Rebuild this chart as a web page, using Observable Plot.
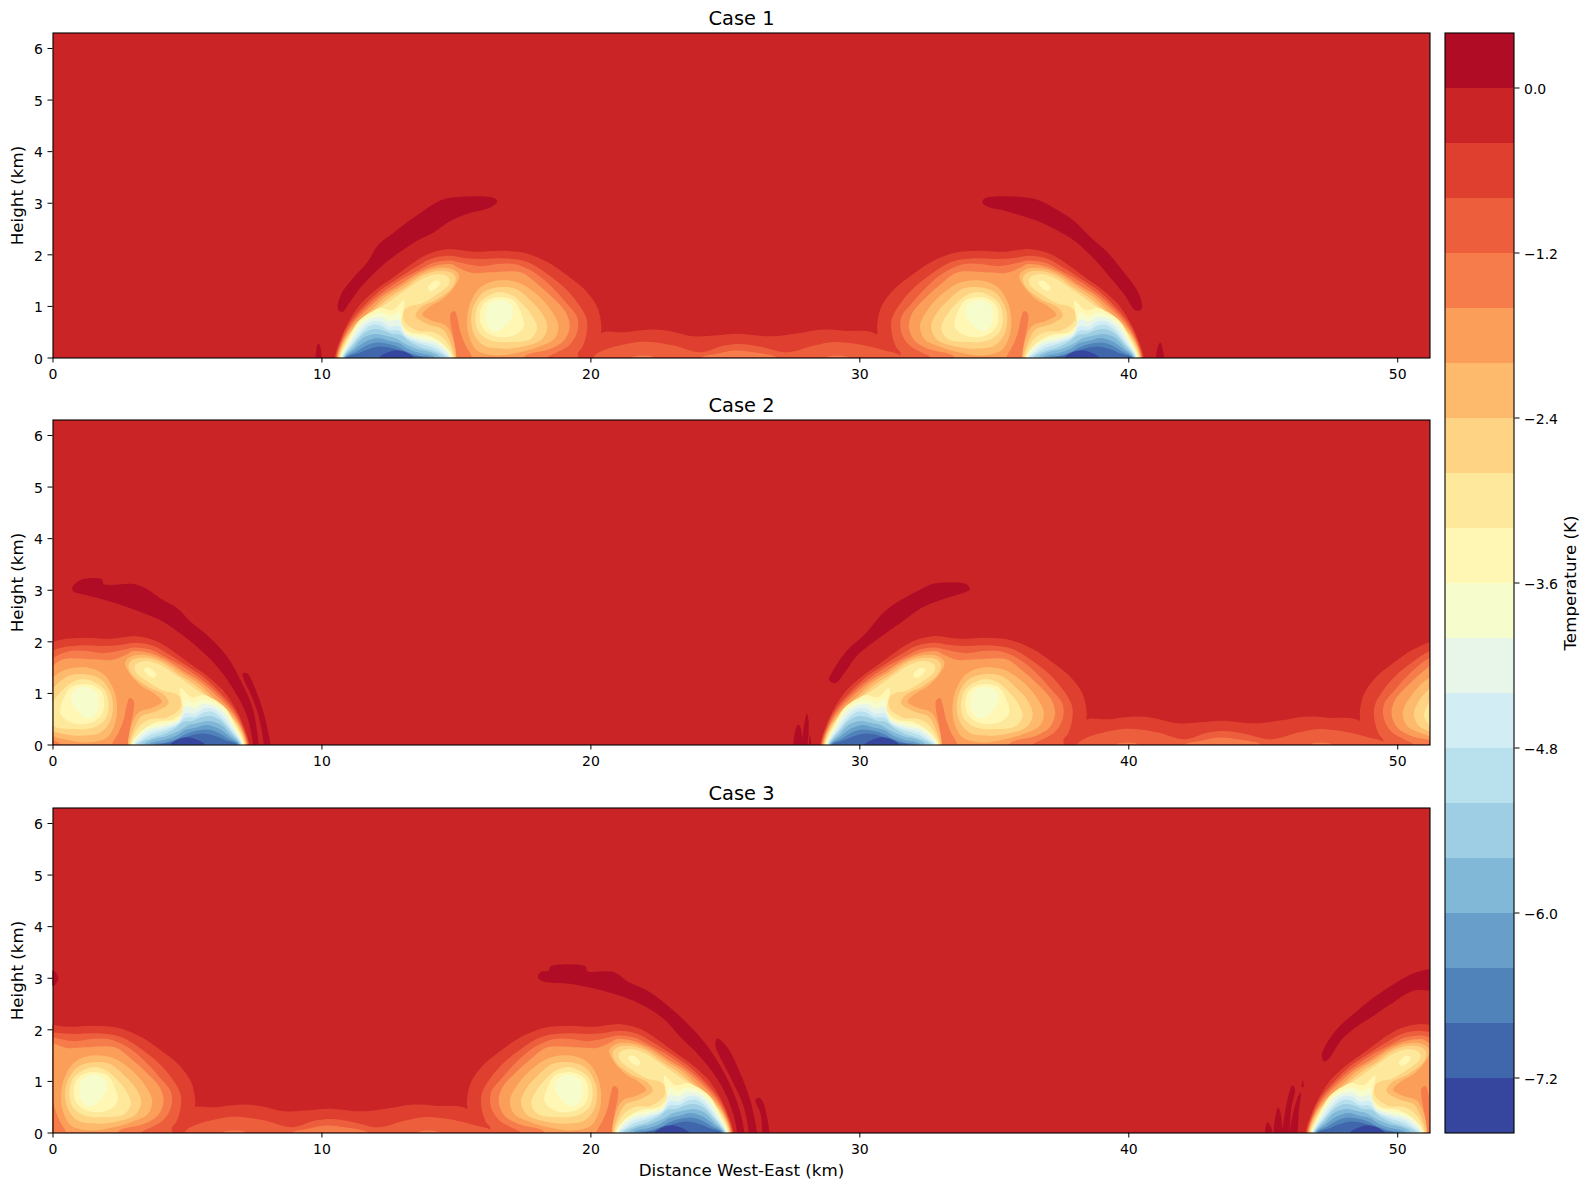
<!DOCTYPE html>
<html><head><meta charset="utf-8">
<script src="https://cdn.jsdelivr.net/npm/d3@7"></script>
<script src="https://cdn.jsdelivr.net/npm/@observablehq/plot@0.6"></script>
<style>html,body{margin:0;background:#fff}#fig{position:relative;width:1590px;height:1189px;overflow:hidden}#fig svg{position:absolute;overflow:visible}</style>
</head><body><div id="fig"></div>
<script>
// Temperature band colours, coldest (-7.6..-7.2) to warmest (0..0.4)
const bandColors=["#36459d","#4066ac","#5183bb","#689fca","#82b8d7","#9dcee3","#b8e0ed","#d3edf4","#e8f6ea","#f7fccd","#fff7b3","#fee89c","#fed484","#fdba6d","#fb9e5a","#f67d4b","#ed5e3c","#de3f2e","#ca2427","#b10c26"];
const bandEdges=d3.range(21).map(i=>-7.6+i*0.4);
const colorbarTicks=[-7.2,-6,-4.8,-3.6,-2.4,-1.2,0];
const xTicks=[0,10,20,30,40,50];
const yTicks=[0,1,2,3,4,5,6];
const caseTitles=["Case 1","Case 2","Case 3"];

// contours of one cold pool (km, km), as in the west half of Case 1
const outer17=[[10.47,0],[10.69,.37],[11,.71],[11.44,1.05],[12,1.32],[12.62,1.55],[13.24,1.79],[13.92,2.01],[14.66,2.11],[15.65,2.06],[16.64,2.08],[17.51,2.04],[18.38,1.86],[19.12,1.6],[19.74,1.34],[20.24,.985],[20.39,.63],[20.39,.47],[20.5,.44],[21,.3],[21,-.3],[10.47,-.3]];
const outer16=[[10.5,0],[10.73,.37],[11.07,.71],[11.56,1.01],[12.12,1.29],[12.74,1.51],[13.42,1.74],[14.04,1.92],[14.72,1.98],[15.15,1.95],[15.9,1.92],[16.89,1.93],[17.63,1.86],[18.38,1.63],[19,1.37],[19.49,1.08],[19.84,.76],[19.84,.47],[19.68,.21],[19.52,.1],[19.6,-.3],[10.5,-.3]];
const outer15=[[10.53,0],[10.77,.37],[11.12,.69],[11.62,.98],[12.18,1.24],[12.86,1.49],[13.55,1.69],[14.17,1.85],[14.79,1.89],[15.03,1.86],[15.9,1.78],[16.52,1.82],[17.14,1.82],[17.88,1.66],[18.5,1.4],[19.06,1.08],[19.49,.79],[19.49,.5],[19.18,.24],[18.75,.11],[18.38,0],[18.3,-.3],[10.53,-.3]];
const outer14=[[10.56,0],[10.81,.37],[11.17,.67],[11.69,.95],[12.31,1.23],[12.93,1.43],[13.61,1.66],[14.23,1.79],[14.79,1.82],[15.03,1.76],[15.59,1.65],[16.27,1.66],[17.39,1.66],[18,1.44],[18.56,1.18],[19.06,.89],[19.21,.6],[19,.34],[18.5,.18],[17.51,.02],[17.5,-.3],[10.56,-.3]];
const finger15=[[14.78,.86],[14.93,.91],[15.03,.79],[15.15,.5],[15.34,.24],[15.59,0],[15.59,-.2],[14.97,-.2],[15,0],[14.9,.37],[14.78,.69]];
const pool13=[[10.58,0],[10.84,.37],[11.25,.66],[11.81,.92],[12.37,1.19],[12.99,1.4],[13.67,1.63],[14.29,1.74],[14.85,1.72],[15.1,1.6],[14.91,1.37],[14.48,1.14],[14.04,1.01],[13.73,.84],[14.1,.72],[14.6,.63],[14.85,.4],[15,0],[15,-.3],[10.58,-.3]];
const warm13=[[15.4,.76],[15.53,1.08],[15.9,1.37],[16.52,1.5],[17.26,1.47],[17.88,1.28],[18.44,.985],[18.79,.63],[18.63,.37],[18,.21],[17.26,.1],[16.52,.05],[15.77,.145],[15.46,.44]];
const pool12=[[10.61,0],[10.89,.37],[11.3,.63],[11.87,.885],[12.43,1.14],[13.11,1.37],[13.73,1.6],[14.35,1.69],[14.79,1.66],[14.97,1.55],[14.85,1.37],[14.29,1.14],[13.67,.98],[13.48,.82],[13.92,.66],[14.48,.56],[14.72,.37],[14.96,0],[14.96,-.3],[10.61,-.3]];
const warm12=[[15.55,.76],[15.65,1.02],[16.02,1.28],[16.58,1.37],[17.2,1.34],[17.76,1.11],[18.19,.86],[18.38,.6],[18.19,.37],[17.63,.24],[16.77,.18],[16.02,.24],[15.65,.47]];
const pool11=[[10.63,0],[10.94,.37],[11.36,.66],[11.95,.9],[12.55,1.11],[13.17,1.34],[13.79,1.55],[14.35,1.63],[14.72,1.55],[14.72,1.43],[14.29,1.24],[13.67,1.05],[13.24,1],[13.05,.92],[13.05,.72],[13.55,.53],[14.17,.5],[14.6,.34],[14.91,0],[14.91,-.3],[10.63,-.3]];
const warm11=[[15.71,.76],[15.84,1.05],[16.21,1.21],[16.64,1.28],[17.08,1.21],[17.57,.985],[17.88,.76],[18,.565],[17.76,.37],[17.01,.31],[16.27,.34],[15.84,.5]];
const lobe10=[[13.94,1.36],[14.23,1.5],[14.39,1.47],[14.29,1.37],[14.04,1.3]];
const pool10=[[10.67,0],[11,.39],[11.36,.71],[11.81,.885],[12.18,.97],[12.62,.93],[13.05,1.11],[12.99,.82],[12.93,.69],[13.3,.5],[13.92,.45],[14.48,.28],[14.87,0],[14.87,-.3],[10.67,-.3]];
const warm10=[[15.87,.76],[15.96,1.02],[16.27,1.15],[16.7,1.18],[17.14,1.11],[17.39,.89],[17.51,.63],[17.26,.47],[16.7,.4],[16.21,.47],[15.96,.6]];
const warm9=[[16.08,.86],[16.21,1.05],[16.64,1.13],[17.01,1.05],[17.11,.86],[16.83,.63],[16.46,.51],[16.15,.63]];
const pool9=[[10.69,0],[11.03,.37],[11.41,.67],[11.87,.84],[12.24,.88],[12.55,.81],[12.86,.885],[13.05,.53],[13.67,.43],[14.17,.37],[14.66,.175],[14.84,0],[14.84,-.3],[10.69,-.3]];
const pool8=[[10.72,0],[11.07,.35],[11.46,.65],[11.87,.775],[12.24,.79],[12.49,.71],[12.86,.74],[13.11,.48],[13.67,.37],[14.23,.3],[14.64,.13],[14.8,0],[14.8,-.3],[10.72,-.3]];
const pool7=[[10.74,0],[11.12,.32],[11.5,.58],[11.87,.71],[12.18,.71],[12.49,.61],[12.86,.62],[13.11,.43],[13.67,.32],[14.17,.25],[14.6,.09],[14.76,0],[14.76,-.3],[10.74,-.3]];
const pool6=[[10.77,0],[11.15,.285],[11.54,.53],[11.87,.645],[12.18,.63],[12.49,.54],[12.86,.53],[13.17,.39],[13.67,.27],[14.17,.19],[14.48,.09],[14.71,0],[14.71,-.3],[10.77,-.3]];
const pool5=[[10.79,0],[11.19,.27],[11.56,.48],[11.93,.56],[12.31,.53],[12.62,.465],[12.93,.445],[13.24,.32],[13.67,.21],[14.1,.14],[14.6,0],[14.6,-.3],[10.79,-.3]];
const pool4=[[10.82,0],[11.19,.21],[11.56,.4],[12,.465],[12.37,.43],[12.8,.37],[13.11,.27],[13.55,.175],[14.04,.11],[14.41,0],[14.41,-.3],[10.82,-.3]];
const pool3=[[10.84,0],[11.19,.155],[11.62,.32],[12.06,.39],[12.49,.335],[12.86,.29],[13.17,.19],[13.61,.1],[14.23,0],[14.23,-.3],[10.84,-.3]];
const pool2=[[10.87,0],[11.25,.115],[11.69,.25],[12.06,.3],[12.49,.27],[12.86,.21],[13.17,.12],[13.61,.045],[14.04,0],[14.04,-.3],[10.87,-.3]];
const pool1=[[10.92,0],[11.31,.08],[11.75,.175],[12.12,.22],[12.62,.19],[12.99,.12],[13.42,.045],[13.79,0],[13.79,-.3],[10.92,-.3]];
const pool0=[[12.12,0],[12.37,.09],[12.8,.15],[13.17,.1],[13.42,0],[13.42,-.2],[12.12,-.2]];

// the low wave that joins the two pools
const bridge17=[[20.36,.47],[21.23,.5],[22.1,.55],[22.84,.53],[23.83,.42],[24.7,.44],[25.44,.47],[26.68,.42],[27.68,.48],[28.54,.55],[29.41,.53],[30.65,.44],[31,-.3],[20.1,-.3]];
const bridge16=[[20.11,.03],[21.48,.29],[22.22,.31],[23.09,.24],[24.08,.11],[24.95,.24],[25.57,.27],[26.31,.22],[27.3,.11],[28.3,.24],[29.04,.31],[29.9,.27],[30.9,.15],[31.52,.03],[31.5,-.3],[20.1,-.3]];
const bridge15a=[[21.48,0],[21.97,.05],[22.4,0],[22.4,-.1],[21.48,-.1]];
const bridge15b=[[24.08,0],[24.7,.08],[25.32,.145],[26.06,.11],[26.93,0],[26.93,-.1],[24.08,-.1]];
const bridge15c=[[28.73,0],[29.16,.05],[29.6,0],[29.6,-.1],[28.73,-.1]];

// warm stripes above each pool (temperature 0 to 0.4)
const warmCase1=[
 [[10.59,.95],[10.72,1.24],[11.13,1.53],[11.69,1.86],[12.12,2.21],[12.62,2.41],[13.17,2.63],[13.61,2.79],[14.17,2.99],[14.72,3.1],[16.4,3.1],[16.52,3.03],[16.27,2.92],[15.4,2.79],[14.79,2.66],[14.17,2.44],[13.55,2.28],[12.8,2.02],[12.18,1.76],[11.44,1.37],[11,1.05],[10.76,.89]],
 [[34.55,3.02],[34.68,3.1],[36.35,3.1],[36.91,3],[37.47,2.83],[37.96,2.66],[38.58,2.34],[39.2,2.05],[39.82,1.66],[40.38,1.24],[40.48,.95],[40.26,.92],[39.82,1.24],[39.2,1.63],[38.58,1.99],[37.96,2.28],[37.34,2.47],[36.72,2.63],[35.98,2.76],[35.36,2.86],[34.8,2.92]],
 [[9.8,-.1],[9.8,.2],[9.87,.28],[9.95,.2],[9.95,-.1]],
 [[41.05,-.1],[41.07,.2],[41.17,.3],[41.27,.15],[41.3,-.1]]
];
const warmCase2=[
 [[.71,3.04],[1.02,3.2],[1.83,3.21],[1.89,3.12],[3,3.12],[3.56,3],[4,2.84],[4.62,2.65],[5.11,2.39],[5.73,2.13],[6.48,1.71],[6.97,1.26],[7.41,.74],[7.65,0],[7.65,-.1],[7.44,-.1],[7.44,0],[7.22,.55],[6.72,1.07],[6.1,1.52],[5.36,1.9],[4.74,2.16],[4,2.42],[3.25,2.58],[2,2.8],[1.02,2.93],[.775,2.97]],
 [[7.06,1.39],[7.22,1.39],[7.59,1],[7.84,.61],[8.09,0],[8.09,-.1],[7.84,-.1],[7.84,0],[7.65,.55],[7.34,1],[7.1,1.26]],
 [[28.86,1.26],[28.98,1.42],[29.54,1.84],[30.16,2.13],[30.9,2.58],[31.52,2.81],[32.2,3],[32.7,3.12],[33.94,3.12],[34.09,3.02],[33.75,2.93],[33.01,2.81],[32.27,2.65],[31.65,2.42],[30.78,2.1],[29.91,1.74],[29.42,1.39],[29.1,1.2]],
 [[27.56,-.1],[27.68,.39],[27.78,.36],[27.8,-.1]],
 [[27.87,-.1],[28.03,.61],[28.1,.42],[27.99,-.1]],
 [[28.11,-.1],[28.15,.19],[28.19,-.1]]
];
const warmCase3=[
 [[18.03,3.02],[18.13,3.12],[18.43,3.15],[18.5,3.23],[19.8,3.23],[19.86,3.14],[20.85,3.12],[21.41,2.92],[22.09,2.76],[23.08,2.37],[23.83,1.99],[24.45,1.6],[25.07,1.05],[25.5,.5],[25.71,0],[25.71,-.1],[25.44,-.1],[25.44,0],[25.25,.44],[24.82,.95],[24.08,1.47],[23.33,1.86],[22.71,2.21],[21.84,2.5],[20.85,2.7],[19.36,2.88],[18.37,2.92],[18.13,2.96]],
 [[24.7,1.83],[25.07,1.66],[25.56,1.15],[25.93,.63],[26.18,0],[26.18,-.1],[25.87,-.1],[25.87,0],[25.69,.5],[25.19,1.08],[24.63,1.7]],
 [[26.22,.69],[26.37,.63],[26.55,.31],[26.64,0],[26.64,-.1],[26.37,-.1],[26.37,0],[26.31,.37],[26.12,.63]],
 [[47.17,1.5],[47.32,1.7],[47.75,2.02],[48.5,2.37],[49.12,2.63],[49.86,2.89],[50.73,3.12],[51.5,3.16],[51.5,2.8],[50.6,2.76],[49.86,2.54],[49.12,2.28],[48.37,2.02],[47.88,1.79],[47.44,1.44],[47.26,1.39]],
 [[0,2.85],[.2,3],[0,3.15],[-.3,3]],
 [[45.09,-.1],[45.15,.21],[45.3,.11],[45.31,-.1]],
 [[45.42,-.1],[45.55,.5],[45.65,.37],[45.65,-.1]],
 [[45.71,-.1],[45.78,.3],[45.95,.75],[46.08,.92],[46.18,.86],[46.05,.5],[45.89,-.1]],
 [[45.99,-.1],[46.08,.3],[46.25,.65],[46.39,.79],[46.33,.44],[46.2,-.1]],
 [[46.43,.89],[46.48,1.02],[46.49,.89]]
];

// [band index, contour] in painting order
const layers=[[17,outer17],[17,bridge17,1],[16,outer16],[16,bridge16,1],[15,outer15],[15,bridge15a,1],[15,bridge15b,1],[15,bridge15c,1],[14,outer14],[15,finger15],[13,pool13],[13,warm13],[12,pool12],[12,warm12],[11,pool11],[11,warm11],[10,lobe10],[10,pool10],[10,warm10],[9,warm9],[9,pool9],[8,pool8],[7,pool7],[6,pool6],[5,pool5],[4,pool4],[3,pool3],[2,pool2],[1,pool1],[0,pool0]];
// position of the two pools and the wave in each case (km)
const westShift=[0,18.05,36.1];
const eastShift=[0,17.95,35.95];
const bridgeShift=[0,18,36];
const mirrorSum=51.03;
const domainX=51.2, domainY=6.3;
const warmStripes=[warmCase1,warmCase2,warmCase3];

const FONT='"DejaVu Sans", sans-serif';
const fig=document.getElementById("fig");
const pw=1377, ph=325, ml=52.5, mt=32.5;
const tops=[-0.5,386.5,774.5];

function poly(pts,fx,color){
  return Plot.line(pts,{x:d=>fx(d[0]),y:d=>d[1],curve:"catmull-rom-closed",fill:color,stroke:"none",clip:true});
}
caseTitles.forEach((title,c)=>{
  const marks=[Plot.frame({fill:bandColors[18],stroke:"none"})];
  for(const [b,pts,isBridge] of layers){
    const col=bandColors[b];
    if(isBridge){
      for(const w of [0,-domainX]) marks.push(poly(pts,x=>x+bridgeShift[c]+w,col));
    }else{
      for(const w of [0,-domainX]){
        marks.push(poly(pts,x=>x+westShift[c]+w,col));
        marks.push(poly(pts,x=>mirrorSum-x+eastShift[c]+w,col));
      }
    }
  }
  for(const s of warmStripes[c]) marks.push(poly(s,x=>x,bandColors[19]));
  const last=c===2;
  marks.push(Plot.axisX({ticks:xTicks,tickSize:5,tickFormat:()=>"",label:null}));
  marks.push(Plot.axisX({ticks:xTicks,tickSize:0,tickPadding:10,dy:1,fontSize:14,tickFormat:d=>String(d),label:null}));
  marks.push(Plot.axisY({ticks:yTicks,tickSize:5,tickFormat:()=>"",label:null}));
  marks.push(Plot.axisY({ticks:yTicks,tickSize:0,tickPadding:10,dy:1.2,fontSize:14,tickFormat:d=>String(d),label:null}));
  marks.push(Plot.frame({stroke:"black",strokeWidth:1.1}));
  marks.push(Plot.text([title],{frameAnchor:"top",dy:-8,lineAnchor:"bottom",fontSize:19.4,fill:"black"}));
  marks.push(Plot.text(["Height (km)"],{frameAnchor:"left",textAnchor:"middle",lineAnchor:"middle",rotate:-90,dx:-35.5,fontSize:16.7,fill:"black"}));
  if(last) marks.push(Plot.text(["Distance West-East (km)"],{frameAnchor:"bottom",lineAnchor:"middle",dy:37.5,fontSize:16.7,fill:"black"}));
  const svg=Plot.plot({
    width:ml+pw+10,height:mt+ph+(last?56.5:30),
    marginLeft:ml,marginRight:10,marginTop:mt,marginBottom:last?56.5:30,
    style:{fontFamily:FONT,fontSize:"14px",color:"black",background:"transparent",overflow:"visible"},
    x:{domain:[0,domainX],label:null},
    y:{domain:[0,domainY],label:null},
    marks
  });
  svg.style.left="-0.5px";svg.style.top=tops[c]+"px";
  fig.appendChild(svg);
});

// colour bar
const bar=Plot.plot({
  width:150,height:1189,marginLeft:4.5,marginRight:76.5,marginTop:32.5,marginBottom:56.5,
  style:{fontFamily:FONT,fontSize:"14px",color:"black",background:"transparent",overflow:"visible"},
  x:{domain:[0,1],axis:null},
  y:{domain:[bandEdges[0],bandEdges[20]],label:null},
  marks:[
    Plot.rect(bandColors,{x1:()=>0,x2:()=>1,y1:(d,i)=>bandEdges[i],y2:(d,i)=>bandEdges[i+1],fill:d=>d,shapeRendering:"crispEdges"}),
    Plot.axisY({anchor:"right",ticks:colorbarTicks,tickSize:5,tickFormat:()=>"",label:null}),
    Plot.axisY({anchor:"right",ticks:colorbarTicks,tickSize:0,tickPadding:10,dy:1.2,fontSize:14,tickFormat:d=>d.toFixed(1).replace("-","\u2212"),label:null}),
    Plot.frame({stroke:"black",strokeWidth:1.1}),
    Plot.text(["Temperature (K)"],{frameAnchor:"right",textAnchor:"middle",lineAnchor:"middle",rotate:-90,dx:57,fontSize:16.7,fill:"black"})
  ]
});
bar.style.left="1439.5px";bar.style.top="-0.5px";
fig.appendChild(bar);
</script></body></html>
